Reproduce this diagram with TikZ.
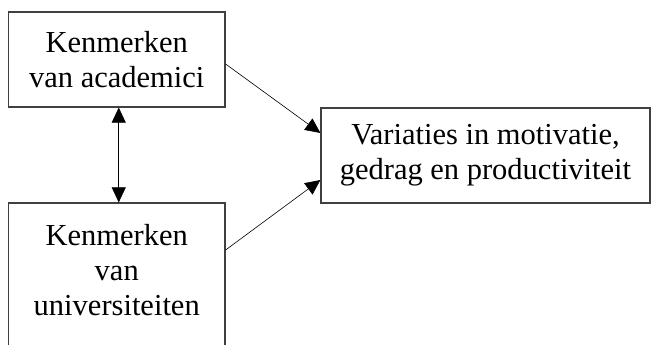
\documentclass[tikz,border=0pt]{standalone}
\usepackage{fontspec}
\setmainfont{Liberation Serif}
\usetikzlibrary{arrows.meta,calc}
\definecolor{boxline}{HTML}{404040}

\begin{document}
\begin{tikzpicture}[x=1pt,y=1pt,font=\fontsize{30.5}{35}\selectfont,
  factbox/.style={draw=boxline,line width=1.2pt,fill=white,minimum width=216.5pt,minimum height=95pt,inner sep=0pt,align=center},
  effbox/.style={factbox,minimum width=329pt},
  link/.style={line width=0.6pt,-{Triangle[length=15pt,width=14pt]}}]
\useasboundingbox (0,0) rectangle (651,345);
\node[factbox] (acad) at (116.75,285.5) {Kenmerken\\van academici};
\node[factbox,minimum height=150pt] (univ) at (116.75,67) {};
\node[align=center] (univtxt) at (116.75,75) {Kenmerken\\van\\universiteiten};
\node[effbox] (effect) at (485.5,189.5) {Variaties in motivatie,\\gedrag en productiviteit};
\draw[link] ([yshift=-4.5pt]acad.east) -- ([yshift=22.5pt]effect.west);
\draw[link] ([yshift=28pt]univ.east) -- ([yshift=-24.5pt]effect.west);
\draw[link,{Triangle[length=15pt,width=14pt]}-{Triangle[length=15pt,width=14pt]}] ([xshift=2pt]acad.south) -- ([xshift=2pt]univ.north);
\end{tikzpicture}
\end{document}
